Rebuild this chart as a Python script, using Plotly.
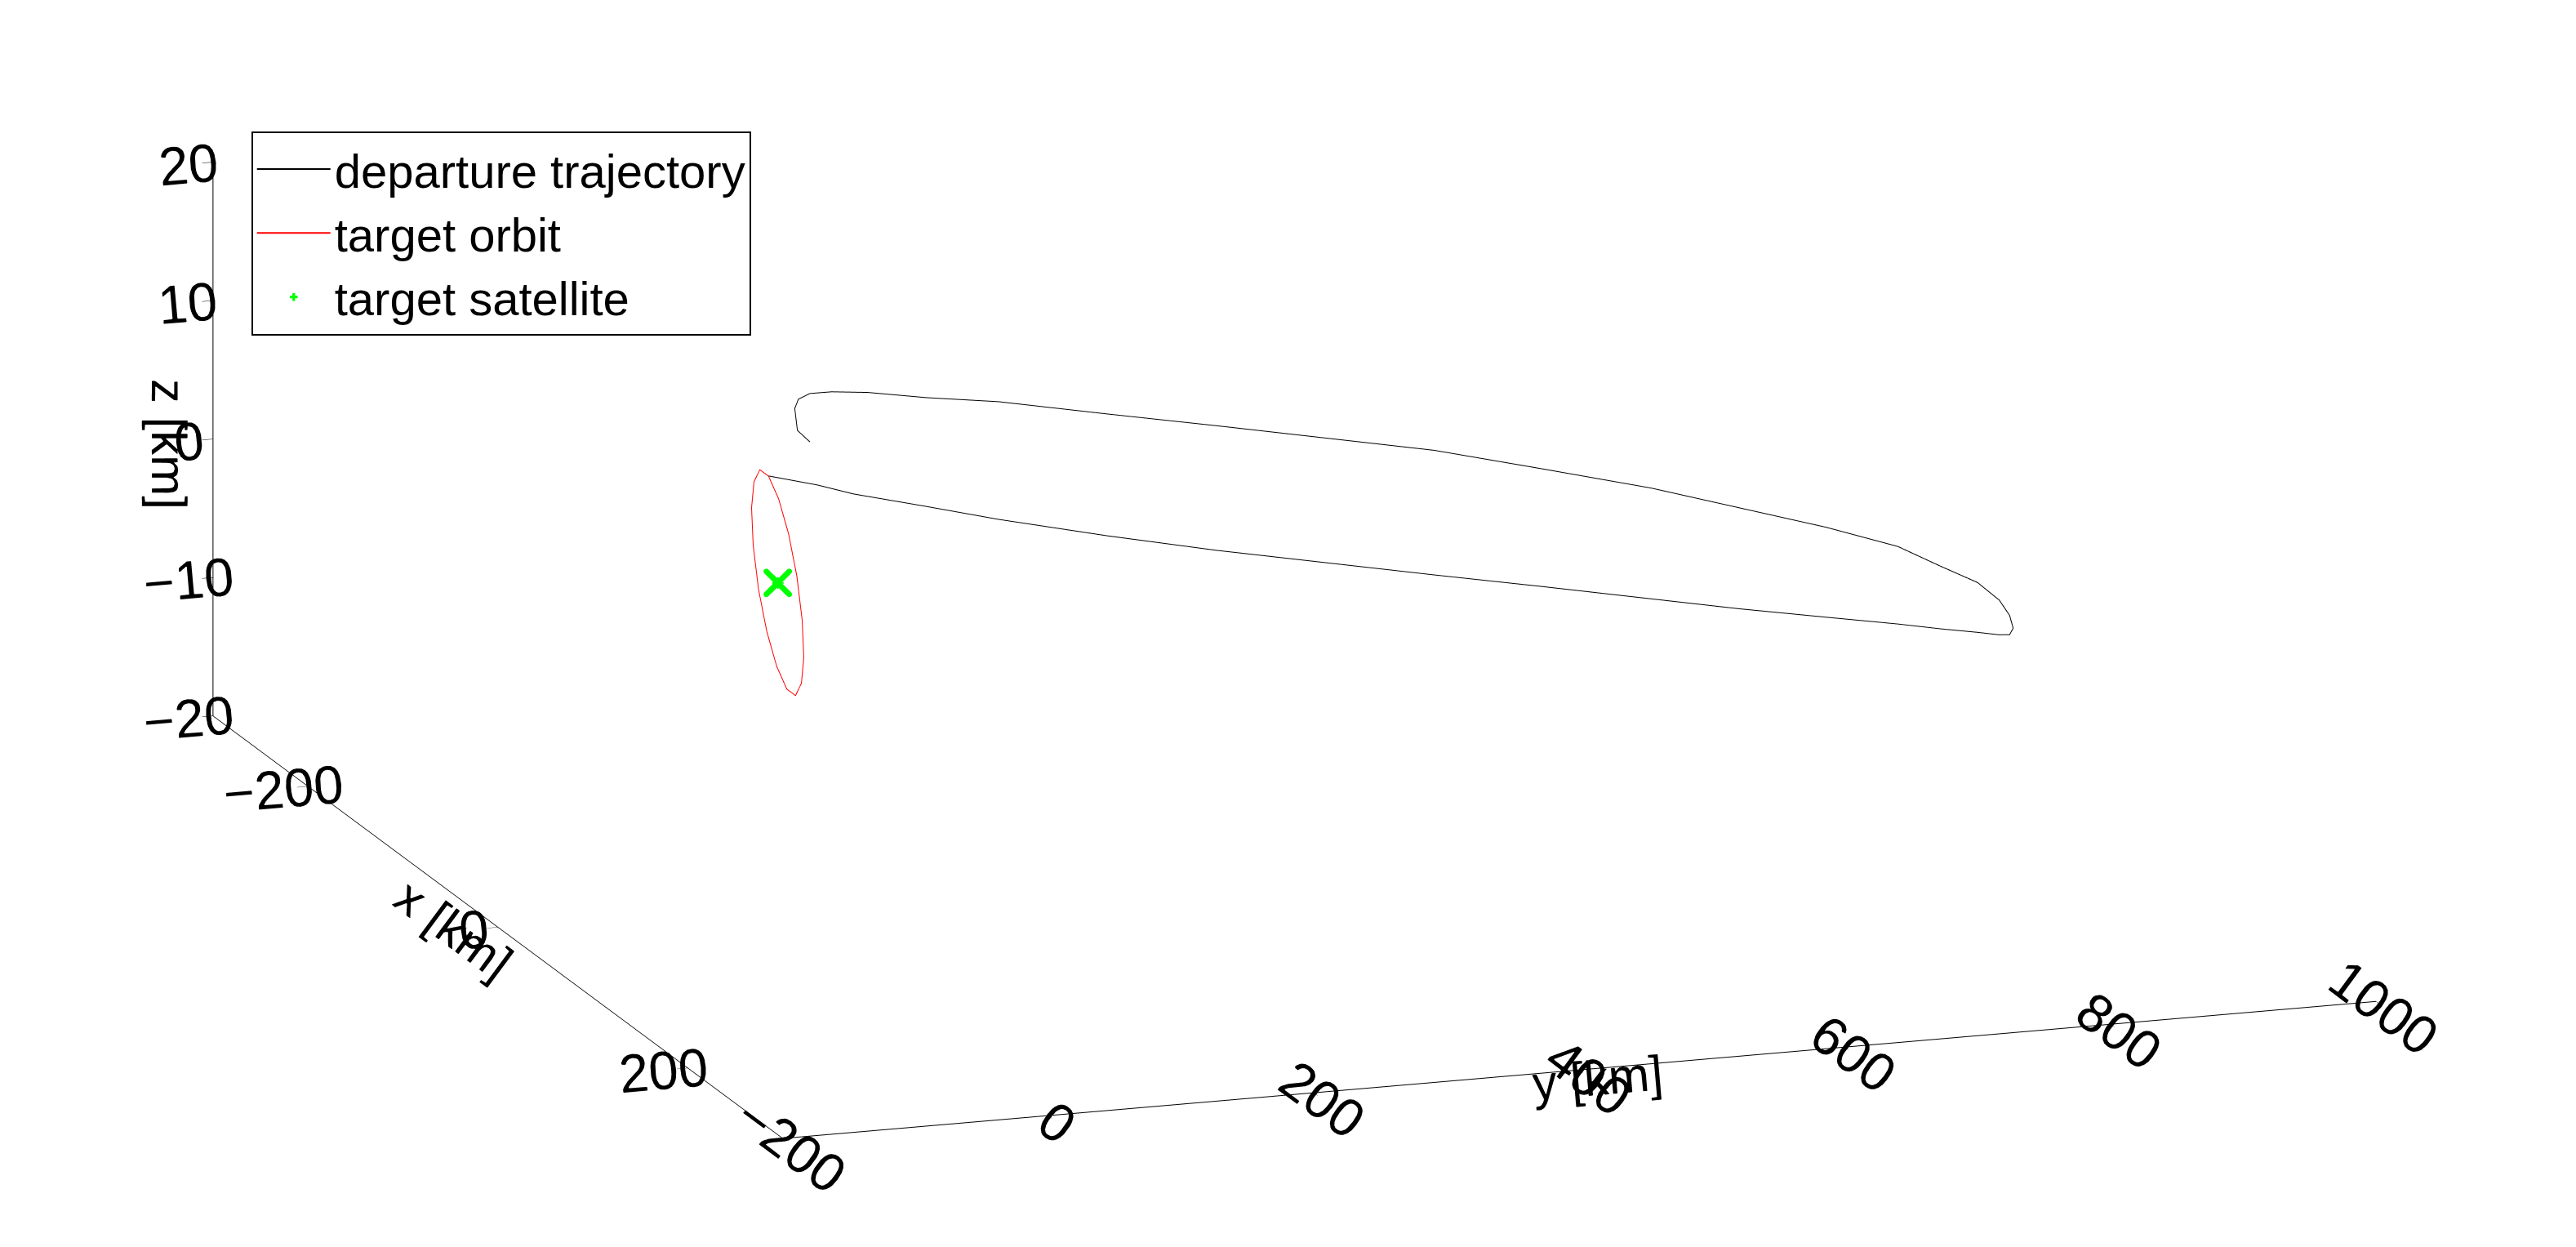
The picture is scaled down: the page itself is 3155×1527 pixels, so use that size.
import plotly.graph_objects as go

# departure trajectory (km)
dep_y = [0, 25, 50, 100, 150, 225, 300, 375, 450, 525, 600, 660, 720, 770, 800, 825, 840, 847, 849,
         847, 840, 825, 800, 770, 720, 660, 600, 525, 450, 375, 300, 225, 150, 100, 60, 35, 20, 12, 10, 12, 20]
dep_x = [5, 22, 25, 31, 38, 48, 57, 67, 77, 86, 96, 104, 112, 118, 122, 125, 127, 128, 129,
         128, 127, 125, 122, 118, 112, 104, 96, 86, 77, 67, 57, 48, 38, 32, 26, 23, 21, 20, 19, 19, 21]
dep_z = [11.2, 11.2, 10.5, 9.5, 8.5, 7.2, 6, 5, 4, 3, 2, 1.2, 0.5, -0.1, -0.5, -0.8, -1, -1, -0.5,
         0.4, 1.5, 2.8, 4, 5.5, 7, 8.5, 10, 11.5, 13, 14, 15, 16, 17, 17.4, 17.8, 17.9, 17.8, 17.4, 16.7, 15.1, 14.3]

# target orbit (km)
orb_x = [5.4, -3.8, -10, -12.5, -10.8, -5.2, 3.5, 14, 24.6, 33.8, 40, 42.5, 40.8, 35.2, 26.5, 16, 5.4]
orb_y = [0] * 17
orb_z = [11.2, 11.2, 10, 8, 5.4, 2.5, -0.1, -2.1, -3.2, -3.2, -2, 0, 2.6, 5.5, 8.1, 10.1, 11.2]

# target satellite
sat_x, sat_y, sat_z = [15], [0], [4]

fig = go.Figure()
fig.add_trace(go.Scatter3d(x=dep_x, y=dep_y, z=dep_z, mode="lines",
                           line=dict(color="black", width=2), name="departure trajectory"))
fig.add_trace(go.Scatter3d(x=orb_x, y=orb_y, z=orb_z, mode="lines",
                           line=dict(color="red", width=2), name="target orbit"))
fig.add_trace(go.Scatter3d(x=sat_x, y=sat_y, z=sat_z, mode="markers",
                           marker=dict(symbol="cross", size=8, color="#00ff00"),
                           name="target satellite"))
fig.add_trace(go.Scatter3d(x=sat_x, y=sat_y, z=sat_z, mode="markers",
                           marker=dict(symbol="x", size=8, color="#00ff00"),
                           showlegend=False))


def axis(title, rng, ticks):
    return dict(title=dict(text=title, font=dict(size=60, color="black")),
                range=rng, tickvals=ticks,
                showbackground=False, showgrid=False, zeroline=False, showline=True,
                linecolor="black", linewidth=2, ticks="outside", tickcolor="black",
                ticklen=14, tickfont=dict(size=28, color="black"), showspikes=False)


eye_dir = (0.925, -0.315, 0.215)
dist = 2.0
zoom = 2.7

fig.update_layout(
    width=3155, height=1527,
    paper_bgcolor="white",
    font=dict(family="Liberation Sans, Arial, sans-serif", color="black"),
    margin=dict(l=0, r=0, t=0, b=0),
    legend=dict(x=0.095, y=0.90, xanchor="left", yanchor="top",
                bordercolor="black", borderwidth=2, bgcolor="white",
                itemwidth=90, font=dict(size=58)),
    scene=dict(
        domain=dict(x=[0, 1], y=[0, 1]),
        xaxis=axis("x [km]", [-300, 300], [-200, 0, 200]),
        yaxis=axis("y [km]", [-200, 1000], [-200, 0, 200, 400, 600, 800, 1000]),
        zaxis=axis("z [km]", [-20, 20], [-20, -10, 0, 10, 20]),
        aspectmode="manual", aspectratio=dict(x=1.05 * zoom, y=1.0 * zoom, z=0.34 * zoom),
        camera=dict(eye=dict(x=dist * eye_dir[0], y=dist * eye_dir[1], z=dist * eye_dir[2]),
                    center=dict(x=0, y=0, z=-0.08),
                    projection=dict(type="orthographic")),
    ),
)
fig.write_html("out.html")
